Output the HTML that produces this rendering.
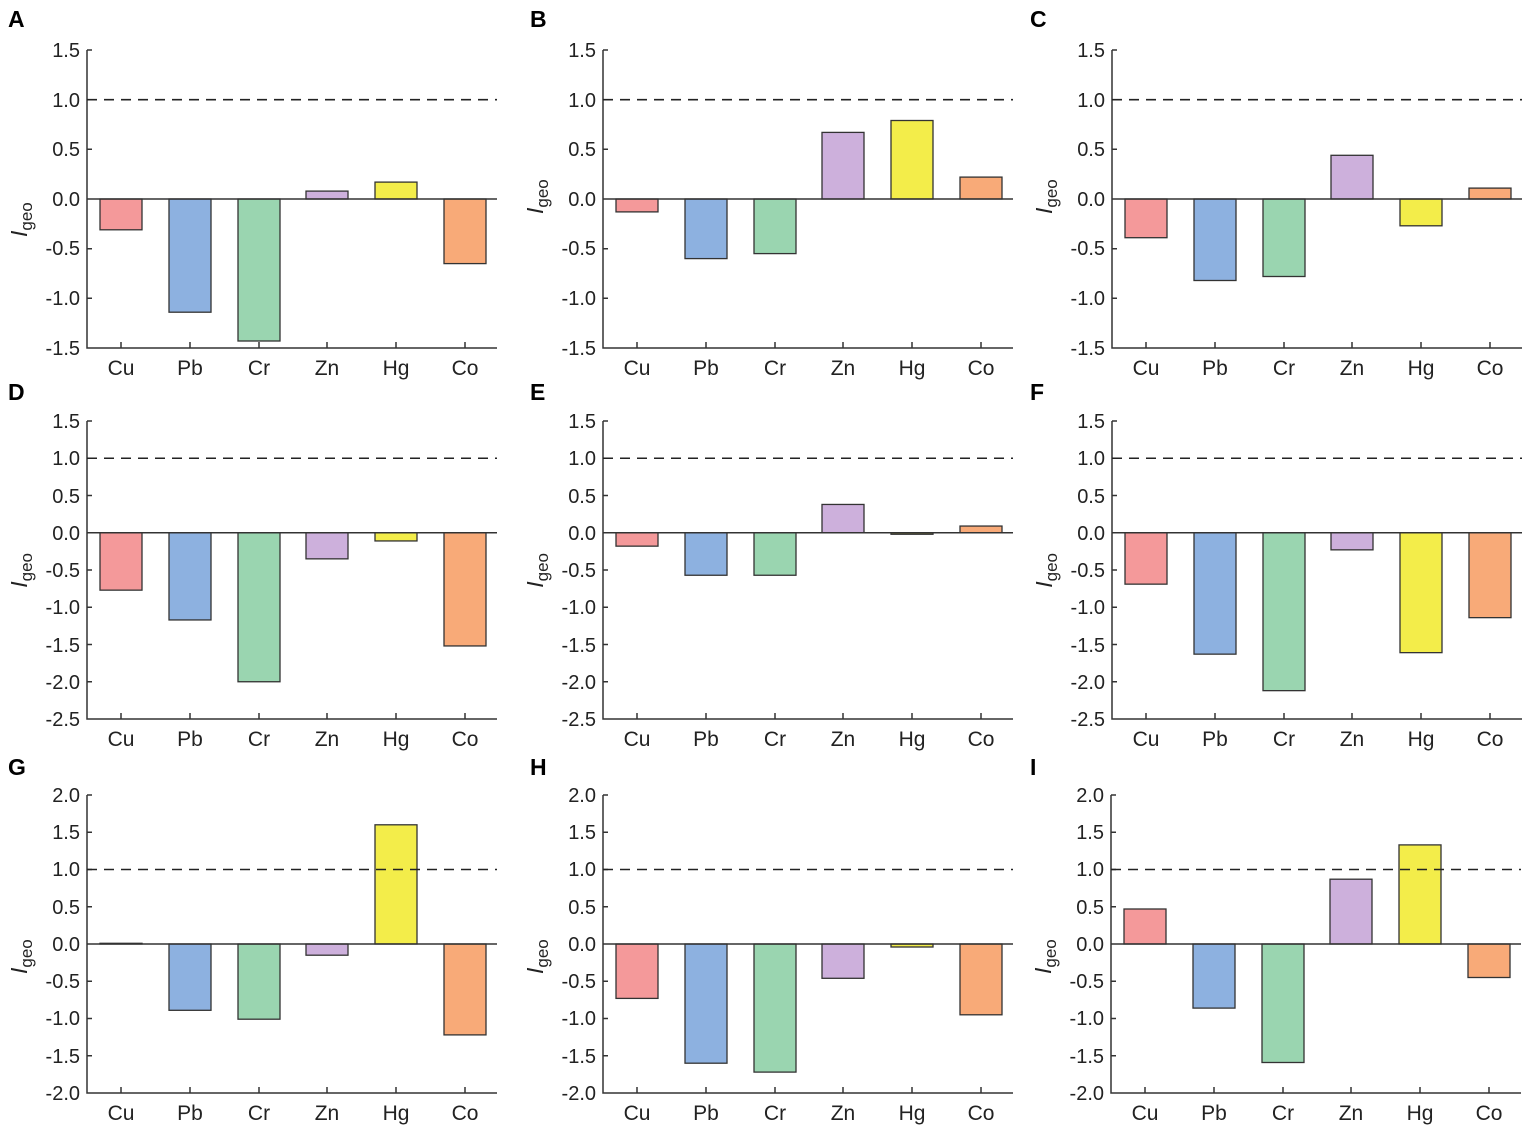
<!DOCTYPE html>
<html><head><meta charset="utf-8"><style>
body{margin:0;background:#fff}
svg{display:block}
text{font-family:"Liberation Sans",Arial,sans-serif;fill:#222}
.t{font-size:20px;text-anchor:end}
.x{font-size:21px;text-anchor:middle}
.L{font-size:23px;font-weight:bold;fill:#000}
.ax{stroke:#333;stroke-width:1.5;fill:none}
.d{stroke:#222;stroke-width:1.6;stroke-dasharray:10,7}
rect{stroke:#333;stroke-width:1.3}
.r{fill:#f4999a}.b{fill:#8db1e0}.g{fill:#9ad5b0}.p{fill:#cdb0dc}.y{fill:#f3ed4a}.o{fill:#f8aa78}
.yl{font-size:23px}
</style></head><body>
<svg width="1535" height="1128" viewBox="0 0 1535 1128" xmlns="http://www.w3.org/2000/svg">
<text class="L" x="8" y="27">A</text><text class="L" x="530" y="27">B</text><text class="L" x="1030" y="27">C</text>
<text class="L" x="8" y="400">D</text><text class="L" x="530" y="400">E</text><text class="L" x="1030" y="400">F</text>
<text class="L" x="8" y="775">G</text><text class="L" x="530" y="775">H</text><text class="L" x="1030" y="775">I</text>

<g transform="translate(87,199)">
<path class="ax" d="M0,-149V149H410M34,149v-6M103,149v-6M172,149v-6M240,149v-6M309,149v-6M378,149v-6M0,-149h5M0,-99.3h5M0,-49.7h5M0,49.7h5M0,99.3h5"/>
<text class="t" x="-7" y="-142">1.5</text><text class="t" x="-7" y="-92">1.0</text><text class="t" x="-7" y="-43">0.5</text><text class="t" x="-7" y="7">0.0</text><text class="t" x="-7" y="56">-0.5</text><text class="t" x="-7" y="106">-1.0</text><text class="t" x="-7" y="156">-1.5</text>
<text class="x" x="34" y="176">Cu</text><text class="x" x="103" y="176">Pb</text><text class="x" x="172" y="176">Cr</text><text class="x" x="240" y="176">Zn</text><text class="x" x="309" y="176">Hg</text><text class="x" x="378" y="176">Co</text>
<text class="yl" x="-60" y="38" transform="rotate(-90 -60 38)"><tspan font-style="italic">I</tspan><tspan font-size="17" dy="5">geo</tspan></text>
<rect class="r" x="13" y="0" width="42" height="30.8"/><rect class="b" x="82" y="0" width="42" height="113.2"/><rect class="g" x="151" y="0" width="42" height="142"/><rect class="p" x="219" y="-7.9" width="42" height="7.9"/><rect class="y" x="288" y="-16.9" width="42" height="16.9"/><rect class="o" x="357" y="0" width="42" height="64.6"/>
<line class="ax" x1="0" y1="0" x2="410" y2="0"/>
<line class="d" x1="0" y1="-99.3" x2="410" y2="-99.3"/>
</g>
<g transform="translate(603,199)">
<path class="ax" d="M0,-149V149H410M34,149v-6M103,149v-6M172,149v-6M240,149v-6M309,149v-6M378,149v-6M0,-149h5M0,-99.3h5M0,-49.7h5M0,49.7h5M0,99.3h5"/>
<text class="t" x="-7" y="-142">1.5</text><text class="t" x="-7" y="-92">1.0</text><text class="t" x="-7" y="-43">0.5</text><text class="t" x="-7" y="7">0.0</text><text class="t" x="-7" y="56">-0.5</text><text class="t" x="-7" y="106">-1.0</text><text class="t" x="-7" y="156">-1.5</text>
<text class="x" x="34" y="176">Cu</text><text class="x" x="103" y="176">Pb</text><text class="x" x="172" y="176">Cr</text><text class="x" x="240" y="176">Zn</text><text class="x" x="309" y="176">Hg</text><text class="x" x="378" y="176">Co</text>
<text class="yl" x="-60" y="15" transform="rotate(-90 -60 15)"><tspan font-style="italic">I</tspan><tspan font-size="17" dy="5">geo</tspan></text>
<rect class="r" x="13" y="0" width="42" height="12.9"/><rect class="b" x="82" y="0" width="42" height="59.6"/><rect class="g" x="151" y="0" width="42" height="54.6"/><rect class="p" x="219" y="-66.6" width="42" height="66.6"/><rect class="y" x="288" y="-78.5" width="42" height="78.5"/><rect class="o" x="357" y="-21.9" width="42" height="21.9"/>
<line class="ax" x1="0" y1="0" x2="410" y2="0"/>
<line class="d" x1="0" y1="-99.3" x2="410" y2="-99.3"/>
</g>
<g transform="translate(1112,199)">
<path class="ax" d="M0,-149V149H410M34,149v-6M103,149v-6M172,149v-6M240,149v-6M309,149v-6M378,149v-6M0,-149h5M0,-99.3h5M0,-49.7h5M0,49.7h5M0,99.3h5"/>
<text class="t" x="-7" y="-142">1.5</text><text class="t" x="-7" y="-92">1.0</text><text class="t" x="-7" y="-43">0.5</text><text class="t" x="-7" y="7">0.0</text><text class="t" x="-7" y="56">-0.5</text><text class="t" x="-7" y="106">-1.0</text><text class="t" x="-7" y="156">-1.5</text>
<text class="x" x="34" y="176">Cu</text><text class="x" x="103" y="176">Pb</text><text class="x" x="172" y="176">Cr</text><text class="x" x="240" y="176">Zn</text><text class="x" x="309" y="176">Hg</text><text class="x" x="378" y="176">Co</text>
<text class="yl" x="-60" y="15" transform="rotate(-90 -60 15)"><tspan font-style="italic">I</tspan><tspan font-size="17" dy="5">geo</tspan></text>
<rect class="r" x="13" y="0" width="42" height="38.7"/><rect class="b" x="82" y="0" width="42" height="81.5"/><rect class="g" x="151" y="0" width="42" height="77.5"/><rect class="p" x="219" y="-43.7" width="42" height="43.7"/><rect class="y" x="288" y="0" width="42" height="26.8"/><rect class="o" x="357" y="-10.9" width="42" height="10.9"/>
<line class="ax" x1="0" y1="0" x2="410" y2="0"/>
<line class="d" x1="0" y1="-99.3" x2="410" y2="-99.3"/>
</g>

<g transform="translate(87,532.75)">
<path class="ax" d="M0,-111.75V186.25H410M34,186.25v-6M103,186.25v-6M172,186.25v-6M240,186.25v-6M309,186.25v-6M378,186.25v-6M0,-111.75h5M0,-74.5h5M0,-37.25h5M0,37.25h5M0,74.5h5M0,111.75h5M0,149h5"/>
<text class="t" x="-7" y="-105">1.5</text><text class="t" x="-7" y="-68">1.0</text><text class="t" x="-7" y="-30">0.5</text><text class="t" x="-7" y="7">0.0</text><text class="t" x="-7" y="44">-0.5</text><text class="t" x="-7" y="81">-1.0</text><text class="t" x="-7" y="119">-1.5</text><text class="t" x="-7" y="156">-2.0</text><text class="t" x="-7" y="193">-2.5</text>
<text class="x" x="34" y="213">Cu</text><text class="x" x="103" y="213">Pb</text><text class="x" x="172" y="213">Cr</text><text class="x" x="240" y="213">Zn</text><text class="x" x="309" y="213">Hg</text><text class="x" x="378" y="213">Co</text>
<text class="yl" x="-60" y="55" transform="rotate(-90 -60 55)"><tspan font-style="italic">I</tspan><tspan font-size="17" dy="5">geo</tspan></text>
<rect class="r" x="13" y="0" width="42" height="57.4"/><rect class="b" x="82" y="0" width="42" height="87.2"/><rect class="g" x="151" y="0" width="42" height="149"/><rect class="p" x="219" y="0" width="42" height="26.1"/><rect class="y" x="288" y="0" width="42" height="8.2"/><rect class="o" x="357" y="0" width="42" height="113.2"/>
<line class="ax" x1="0" y1="0" x2="410" y2="0"/>
<line class="d" x1="0" y1="-74.5" x2="410" y2="-74.5"/>
</g>
<g transform="translate(603,532.75)">
<path class="ax" d="M0,-111.75V186.25H410M34,186.25v-6M103,186.25v-6M172,186.25v-6M240,186.25v-6M309,186.25v-6M378,186.25v-6M0,-111.75h5M0,-74.5h5M0,-37.25h5M0,37.25h5M0,74.5h5M0,111.75h5M0,149h5"/>
<text class="t" x="-7" y="-105">1.5</text><text class="t" x="-7" y="-68">1.0</text><text class="t" x="-7" y="-30">0.5</text><text class="t" x="-7" y="7">0.0</text><text class="t" x="-7" y="44">-0.5</text><text class="t" x="-7" y="81">-1.0</text><text class="t" x="-7" y="119">-1.5</text><text class="t" x="-7" y="156">-2.0</text><text class="t" x="-7" y="193">-2.5</text>
<text class="x" x="34" y="213">Cu</text><text class="x" x="103" y="213">Pb</text><text class="x" x="172" y="213">Cr</text><text class="x" x="240" y="213">Zn</text><text class="x" x="309" y="213">Hg</text><text class="x" x="378" y="213">Co</text>
<text class="yl" x="-60" y="55" transform="rotate(-90 -60 55)"><tspan font-style="italic">I</tspan><tspan font-size="17" dy="5">geo</tspan></text>
<rect class="r" x="13" y="0" width="42" height="13.4"/><rect class="b" x="82" y="0" width="42" height="42.5"/><rect class="g" x="151" y="0" width="42" height="42.5"/><rect class="p" x="219" y="-28.3" width="42" height="28.3"/><rect class="y" x="288" y="0" width="42" height="1.5"/><rect class="o" x="357" y="-6.7" width="42" height="6.7"/>
<line class="ax" x1="0" y1="0" x2="410" y2="0"/>
<line class="d" x1="0" y1="-74.5" x2="410" y2="-74.5"/>
</g>
<g transform="translate(1112,532.75)">
<path class="ax" d="M0,-111.75V186.25H410M34,186.25v-6M103,186.25v-6M172,186.25v-6M240,186.25v-6M309,186.25v-6M378,186.25v-6M0,-111.75h5M0,-74.5h5M0,-37.25h5M0,37.25h5M0,74.5h5M0,111.75h5M0,149h5"/>
<text class="t" x="-7" y="-105">1.5</text><text class="t" x="-7" y="-68">1.0</text><text class="t" x="-7" y="-30">0.5</text><text class="t" x="-7" y="7">0.0</text><text class="t" x="-7" y="44">-0.5</text><text class="t" x="-7" y="81">-1.0</text><text class="t" x="-7" y="119">-1.5</text><text class="t" x="-7" y="156">-2.0</text><text class="t" x="-7" y="193">-2.5</text>
<text class="x" x="34" y="213">Cu</text><text class="x" x="103" y="213">Pb</text><text class="x" x="172" y="213">Cr</text><text class="x" x="240" y="213">Zn</text><text class="x" x="309" y="213">Hg</text><text class="x" x="378" y="213">Co</text>
<text class="yl" x="-60" y="55" transform="rotate(-90 -60 55)"><tspan font-style="italic">I</tspan><tspan font-size="17" dy="5">geo</tspan></text>
<rect class="r" x="13" y="0" width="42" height="51.4"/><rect class="b" x="82" y="0" width="42" height="121.4"/><rect class="g" x="151" y="0" width="42" height="157.9"/><rect class="p" x="219" y="0" width="42" height="17.1"/><rect class="y" x="288" y="0" width="42" height="119.9"/><rect class="o" x="357" y="0" width="42" height="84.9"/>
<line class="ax" x1="0" y1="0" x2="410" y2="0"/>
<line class="d" x1="0" y1="-74.5" x2="410" y2="-74.5"/>
</g>

<g transform="translate(87,944)">
<path class="ax" d="M0,-149V149H410M34,149v-6M103,149v-6M172,149v-6M240,149v-6M309,149v-6M378,149v-6M0,-149h5M0,-111.75h5M0,-74.5h5M0,-37.25h5M0,37.25h5M0,74.5h5M0,111.75h5"/>
<text class="t" x="-7" y="-142">2.0</text><text class="t" x="-7" y="-105">1.5</text><text class="t" x="-7" y="-68">1.0</text><text class="t" x="-7" y="-30">0.5</text><text class="t" x="-7" y="7">0.0</text><text class="t" x="-7" y="44">-0.5</text><text class="t" x="-7" y="81">-1.0</text><text class="t" x="-7" y="119">-1.5</text><text class="t" x="-7" y="156">-2.0</text>
<text class="x" x="34" y="176">Cu</text><text class="x" x="103" y="176">Pb</text><text class="x" x="172" y="176">Cr</text><text class="x" x="240" y="176">Zn</text><text class="x" x="309" y="176">Hg</text><text class="x" x="378" y="176">Co</text>
<text class="yl" x="-60" y="30" transform="rotate(-90 -60 30)"><tspan font-style="italic">I</tspan><tspan font-size="17" dy="5">geo</tspan></text>
<rect class="r" x="13" y="-0.7" width="42" height="0.7"/><rect class="b" x="82" y="0" width="42" height="66.3"/><rect class="g" x="151" y="0" width="42" height="75.2"/><rect class="p" x="219" y="0" width="42" height="11.2"/><rect class="y" x="288" y="-119.2" width="42" height="119.2"/><rect class="o" x="357" y="0" width="42" height="90.9"/>
<line class="ax" x1="0" y1="0" x2="410" y2="0"/>
<line class="d" x1="0" y1="-74.5" x2="410" y2="-74.5"/>
</g>
<g transform="translate(603,944)">
<path class="ax" d="M0,-149V149H410M34,149v-6M103,149v-6M172,149v-6M240,149v-6M309,149v-6M378,149v-6M0,-149h5M0,-111.75h5M0,-74.5h5M0,-37.25h5M0,37.25h5M0,74.5h5M0,111.75h5"/>
<text class="t" x="-7" y="-142">2.0</text><text class="t" x="-7" y="-105">1.5</text><text class="t" x="-7" y="-68">1.0</text><text class="t" x="-7" y="-30">0.5</text><text class="t" x="-7" y="7">0.0</text><text class="t" x="-7" y="44">-0.5</text><text class="t" x="-7" y="81">-1.0</text><text class="t" x="-7" y="119">-1.5</text><text class="t" x="-7" y="156">-2.0</text>
<text class="x" x="34" y="176">Cu</text><text class="x" x="103" y="176">Pb</text><text class="x" x="172" y="176">Cr</text><text class="x" x="240" y="176">Zn</text><text class="x" x="309" y="176">Hg</text><text class="x" x="378" y="176">Co</text>
<text class="yl" x="-60" y="30" transform="rotate(-90 -60 30)"><tspan font-style="italic">I</tspan><tspan font-size="17" dy="5">geo</tspan></text>
<rect class="r" x="13" y="0" width="42" height="54.4"/><rect class="b" x="82" y="0" width="42" height="119.2"/><rect class="g" x="151" y="0" width="42" height="128.1"/><rect class="p" x="219" y="0" width="42" height="34.3"/><rect class="y" x="288" y="0" width="42" height="3"/><rect class="o" x="357" y="0" width="42" height="70.8"/>
<line class="ax" x1="0" y1="0" x2="410" y2="0"/>
<line class="d" x1="0" y1="-74.5" x2="410" y2="-74.5"/>
</g>
<g transform="translate(1111,944)">
<path class="ax" d="M0,-149V149H410M34,149v-6M103,149v-6M172,149v-6M240,149v-6M309,149v-6M378,149v-6M0,-149h5M0,-111.75h5M0,-74.5h5M0,-37.25h5M0,37.25h5M0,74.5h5M0,111.75h5"/>
<text class="t" x="-7" y="-142">2.0</text><text class="t" x="-7" y="-105">1.5</text><text class="t" x="-7" y="-68">1.0</text><text class="t" x="-7" y="-30">0.5</text><text class="t" x="-7" y="7">0.0</text><text class="t" x="-7" y="44">-0.5</text><text class="t" x="-7" y="81">-1.0</text><text class="t" x="-7" y="119">-1.5</text><text class="t" x="-7" y="156">-2.0</text>
<text class="x" x="34" y="176">Cu</text><text class="x" x="103" y="176">Pb</text><text class="x" x="172" y="176">Cr</text><text class="x" x="240" y="176">Zn</text><text class="x" x="309" y="176">Hg</text><text class="x" x="378" y="176">Co</text>
<text class="yl" x="-60" y="30" transform="rotate(-90 -60 30)"><tspan font-style="italic">I</tspan><tspan font-size="17" dy="5">geo</tspan></text>
<rect class="r" x="13" y="-35" width="42" height="35"/><rect class="b" x="82" y="0" width="42" height="64.1"/><rect class="g" x="151" y="0" width="42" height="118.5"/><rect class="p" x="219" y="-64.8" width="42" height="64.8"/><rect class="y" x="288" y="-99.1" width="42" height="99.1"/><rect class="o" x="357" y="0" width="42" height="33.5"/>
<line class="ax" x1="0" y1="0" x2="410" y2="0"/>
<line class="d" x1="0" y1="-74.5" x2="410" y2="-74.5"/>
</g>
</svg>
</body></html>
